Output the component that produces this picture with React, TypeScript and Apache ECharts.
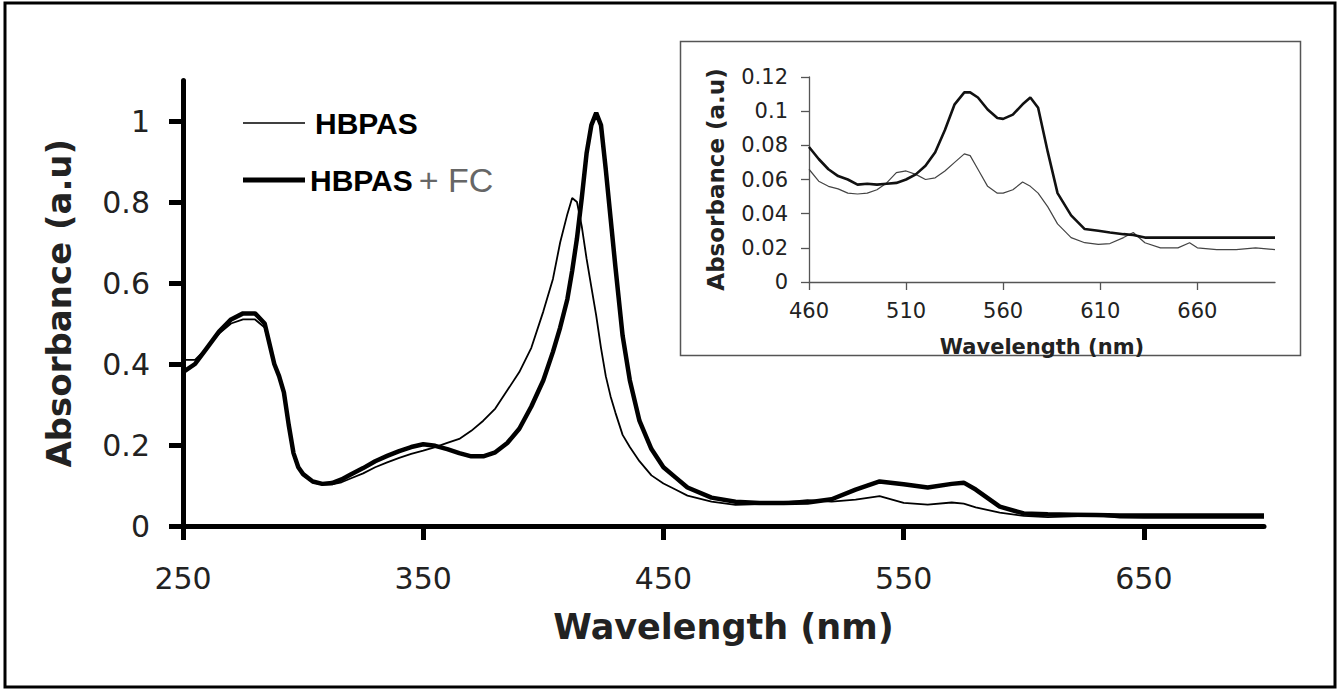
import React, { useEffect, useRef } from 'react';
import * as echarts from 'echarts';

// ---- Main spectrum (250–700 nm) ----
const mainWavelengths = [
  250, 255, 260, 265, 270, 275, 280, 284, 288, 290, 292, 294, 296, 298, 300, 304, 308, 312, 316, 320,
  325, 330, 335, 340, 345, 350, 355, 360, 365, 370, 375, 380, 385, 390, 395, 400, 404, 407, 410, 412,
  414, 416, 418, 420, 422, 424, 426, 428, 430, 433, 436, 440, 445, 450, 455, 460, 470, 480, 490, 500,
  510, 520, 530, 540, 550, 560, 570, 575, 580, 590, 600, 610, 620, 630, 640, 650, 660, 670, 680, 690, 700,
];
const hbpasMain = [
  0.41, 0.41, 0.44, 0.475, 0.5, 0.51, 0.51, 0.49, 0.4, 0.37, 0.33, 0.25, 0.18, 0.145, 0.125, 0.108, 0.102, 0.103, 0.108, 0.118,
  0.13, 0.145, 0.157, 0.168, 0.178, 0.186, 0.195, 0.205, 0.215, 0.235, 0.26, 0.29, 0.335, 0.38, 0.44, 0.53, 0.61, 0.7, 0.77, 0.81,
  0.8, 0.74, 0.66, 0.59, 0.52, 0.44, 0.37, 0.32, 0.28, 0.225, 0.195, 0.16, 0.125, 0.105, 0.09, 0.075, 0.06, 0.052, 0.054, 0.058,
  0.064, 0.06, 0.065, 0.074, 0.057, 0.053, 0.058, 0.055, 0.046, 0.033, 0.025, 0.022, 0.024, 0.026, 0.021, 0.02, 0.02, 0.02, 0.02, 0.02, 0.02,
];
const hbpasFcMain = [
  0.38, 0.4, 0.44, 0.48, 0.51, 0.525, 0.525, 0.5, 0.4, 0.37, 0.33, 0.25, 0.18, 0.145, 0.128, 0.11, 0.104, 0.106, 0.115, 0.128,
  0.143, 0.16, 0.173, 0.185, 0.195, 0.202, 0.198, 0.19, 0.18, 0.172, 0.172, 0.182, 0.205, 0.24, 0.295, 0.36, 0.43, 0.49, 0.56, 0.63,
  0.71, 0.81, 0.92, 0.99, 1.02, 0.99, 0.88, 0.76, 0.64, 0.47, 0.36, 0.26, 0.19, 0.145, 0.12, 0.095, 0.07, 0.06, 0.057, 0.057,
  0.058, 0.066, 0.09, 0.11, 0.103, 0.095, 0.104, 0.107, 0.09, 0.048, 0.031, 0.029, 0.028, 0.027, 0.026, 0.026, 0.026, 0.026, 0.026, 0.026, 0.026,
];

// ---- Inset (460–700 nm) ----
const insetWavelengths = [
  460, 465, 470, 475, 480, 485, 490, 495, 500, 505, 510, 515, 520, 525, 530, 535, 540, 543, 547, 552,
  557, 560, 565, 570, 574, 578, 583, 588, 595, 602, 609, 615, 622, 627, 633, 641, 650, 656, 660, 670, 680, 690, 700,
];
const hbpasInset = [
  0.066, 0.059, 0.056, 0.0545, 0.052, 0.0515, 0.052, 0.054, 0.058, 0.064, 0.065, 0.063, 0.06, 0.061, 0.065, 0.07, 0.075, 0.074, 0.066, 0.056,
  0.052, 0.052, 0.054, 0.0585, 0.056, 0.052, 0.044, 0.034, 0.026, 0.023, 0.022, 0.0225, 0.026, 0.029, 0.023, 0.02, 0.02, 0.023, 0.02, 0.019, 0.019, 0.02, 0.019,
];
const hbpasFcInset = [
  0.079, 0.072, 0.066, 0.062, 0.06, 0.057, 0.0575, 0.057, 0.0575, 0.058, 0.06, 0.063, 0.068, 0.076, 0.089, 0.104, 0.111, 0.111, 0.108, 0.101,
  0.096, 0.0955, 0.098, 0.104, 0.108, 0.102, 0.076, 0.052, 0.039, 0.031, 0.03, 0.029, 0.028, 0.0275, 0.026, 0.026, 0.026, 0.026, 0.026, 0.026, 0.026, 0.026, 0.026,
];

// ---- Tick labels ----
const mainXTicks = [250, 350, 450, 550, 650];
const mainYTicks = [0, 0.2, 0.4, 0.6, 0.8, 1];
const insetXTicks = [460, 510, 560, 610, 660];
const insetYTicks = [0, 0.02, 0.04, 0.06, 0.08, 0.1, 0.12];

const SERIES_A = 'HBPAS';
const SERIES_B = 'HBPAS + FC';

const pairs = (xs: number[], ys: number[]) => xs.map((x, i) => [x, ys[i]]);

export default function App() {
  const ref = useRef<HTMLDivElement>(null);

  useEffect(() => {
    if (!ref.current) return;
    const chart = echarts.init(ref.current, null, { renderer: 'svg' });
    const font = 'DejaVu Sans, Verdana, sans-serif';

    chart.setOption({
      animation: false,
      backgroundColor: '#fff',
      legend: {
        orient: 'vertical',
        left: 243,
        top: 108,
        padding: 0,
        itemWidth: 62,
        itemHeight: 28,
        itemGap: 25,
        selectedMode: false,
        data: [
          { name: SERIES_A, icon: 'path://M0,0h62v1.6h-62z', itemStyle: { color: '#000' } },
          { name: SERIES_B, icon: 'path://M0,0h60v5h-60z', itemStyle: { color: '#000' } },
        ],
        formatter: (name: string) =>
          name === SERIES_A ? '{a|HBPAS}' : '{b|HBPAS}{g|+ FC}',
        textStyle: {
          rich: {
            a: { fontFamily: 'Liberation Sans, Arial', fontWeight: 'bold', fontSize: 30, color: '#000', lineHeight: 30, padding: [0, 0, 0, 5] },
            b: { fontFamily: 'Liberation Sans, Arial', fontWeight: 'bold', fontSize: 30, color: '#000', lineHeight: 30 },
            g: { fontFamily: 'Liberation Sans, Arial', fontSize: 34, color: '#666', lineHeight: 30, padding: [0, 0, 0, 6] },
          },
        },
      },
      grid: [
        { left: 183, top: 80.5, right: 75, bottom: 164 },
        { left: 809, top: 77, right: 64, bottom: 408 },
      ],
      xAxis: [
        {
          type: 'value', gridIndex: 0, min: 250, max: 700,
          name: 'Wavelength (nm)', nameLocation: 'middle', nameGap: 83,
          nameTextStyle: { fontFamily: font, fontWeight: 'bold', fontSize: 35, color: '#222' },
          axisLine: { onZero: false, lineStyle: { color: '#000', width: 5 } },
          axisTick: { customValues: mainXTicks, length: 14, lineStyle: { color: '#000', width: 5 } },
          axisLabel: { customValues: mainXTicks, margin: 37, fontFamily: font, fontSize: 30, color: '#222' },
          splitLine: { show: false },
        },
        {
          type: 'value', gridIndex: 1, min: 460, max: 700,
          name: 'Wavelength (nm)', nameLocation: 'middle', nameGap: 54,
          nameTextStyle: { fontFamily: font, fontWeight: 'bold', fontSize: 21, color: '#222' },
          axisLine: { onZero: false, lineStyle: { color: '#555', width: 1.3 } },
          axisTick: { customValues: insetXTicks, length: 8, lineStyle: { color: '#555', width: 1.3 } },
          axisLabel: { customValues: insetXTicks, margin: 18, fontFamily: font, fontSize: 21, color: '#222' },
          splitLine: { show: false },
        },
      ],
      yAxis: [
        {
          type: 'value', gridIndex: 0, min: 0, max: 1.1,
          name: 'Absorbance (a.u)', nameLocation: 'middle', nameGap: 107,
          nameTextStyle: { fontFamily: font, fontWeight: 'bold', fontSize: 34, color: '#222' },
          axisLine: { onZero: false, lineStyle: { color: '#000', width: 5 } },
          axisTick: { customValues: mainYTicks, length: 14, lineStyle: { color: '#000', width: 5 } },
          axisLabel: { customValues: mainYTicks, margin: 33, fontFamily: font, fontSize: 30, color: '#222' },
          splitLine: { show: false },
        },
        {
          type: 'value', gridIndex: 1, min: 0, max: 0.12,
          name: 'Absorbance (a.u)', nameLocation: 'middle', nameGap: 82,
          nameTextStyle: { fontFamily: font, fontWeight: 'bold', fontSize: 23, color: '#222' },
          axisLine: { onZero: false, lineStyle: { color: '#555', width: 1.3 } },
          axisTick: { customValues: insetYTicks, length: 8, lineStyle: { color: '#555', width: 1.3 } },
          axisLabel: { customValues: insetYTicks, margin: 21, fontFamily: font, fontSize: 21, color: '#222' },
          splitLine: { show: false },
        },
      ],
      graphic: [
        { type: 'rect', shape: { x: 5, y: 3, width: 1330, height: 684 }, style: { fill: 'none', stroke: '#000', lineWidth: 3 }, z: 0 },
        { type: 'rect', shape: { x: 680.5, y: 41.5, width: 620, height: 314 }, style: { fill: 'none', stroke: '#555', lineWidth: 1.5 }, z: 0 },
      ],
      series: [
        {
          name: SERIES_A, type: 'line', xAxisIndex: 0, yAxisIndex: 0, symbol: 'none', color: '#000',
          lineStyle: { color: '#000', width: 1.8 }, data: pairs(mainWavelengths, hbpasMain),
        },
        {
          name: SERIES_B, type: 'line', xAxisIndex: 0, yAxisIndex: 0, symbol: 'none', color: '#000',
          lineStyle: { color: '#000', width: 4.5 }, data: pairs(mainWavelengths, hbpasFcMain),
        },
        {
          name: SERIES_A, type: 'line', xAxisIndex: 1, yAxisIndex: 1, symbol: 'none', color: '#000',
          lineStyle: { color: '#444', width: 1.2 }, data: pairs(insetWavelengths, hbpasInset),
        },
        {
          name: SERIES_B, type: 'line', xAxisIndex: 1, yAxisIndex: 1, symbol: 'none', color: '#000',
          lineStyle: { color: '#111', width: 2.6 }, data: pairs(insetWavelengths, hbpasFcInset),
        },
      ],
    });

    return () => chart.dispose();
  }, []);

  return (
    <div
      ref={ref}
      style={{ position: 'fixed', left: 0, top: 0, width: 1339, height: 690, background: '#fff' }}
    />
  );
}
